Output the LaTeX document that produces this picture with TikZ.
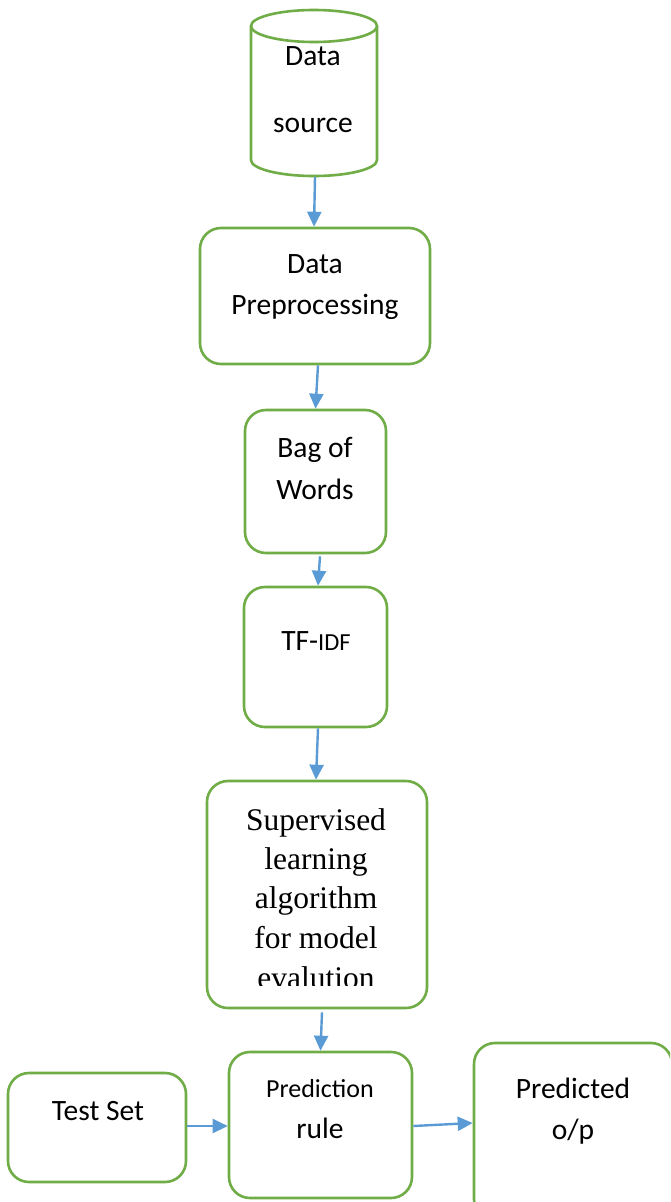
\documentclass[tikz,border=0pt]{standalone}
\usepackage{fontspec}
\setmainfont{Carlito}
\newfontfamily\camfont{Liberation Serif}
\usetikzlibrary{arrows.meta}
\definecolor{boxgreen}{HTML}{70AD47}
\definecolor{arrowblue}{HTML}{5B9BD5}
\tikzset{
  stepbox/.style={draw=boxgreen, line width=2.6pt, rounded corners=21pt, fill=white, inner sep=0pt},
  txt/.style={inner sep=0pt, anchor=base, font=\fontsize{29.5}{34}\selectfont, text=black},
  smalltxt/.style={txt, font=\fontsize{26}{30}\selectfont},
  sertxt/.style={inner sep=0pt, anchor=base, font=\camfont\fontsize{31.5}{36}\selectfont, text=black},
  flow/.style={draw=arrowblue, line width=2.4pt, -{Triangle[length=15pt,width=14pt]}},
}
\begin{document}
\begin{tikzpicture}[x=1pt,y=-1pt]
\useasboundingbox (0,0) rectangle (670,1202);
\fill[white] (0,0) rectangle (670,1202);
\begin{scope}
\clip (0,0) rectangle (670,1202);
% cylinder (Data source)
\draw[boxgreen, line width=2.6pt, fill=white]
  (251,26) -- (251,160) arc[start angle=180, end angle=360, x radius=63pt, y radius=16pt] -- (377,26);
\draw[boxgreen, line width=2.6pt, fill=white] (314,26) ellipse[x radius=63pt, y radius=16pt];
\node[inner sep=0pt, minimum width=126pt, minimum height=166pt] (ds) at (314,93) {};
\node[txt] (ds1) at (313,65) {Data};
\node[txt] (ds2) at (313,132) {source};

% boxes
\node[stepbox, minimum width=230pt, minimum height=136pt] (dp) at (315,296) {};
\node[txt] (dp1) at (315,273) {Data};
\node[txt] (dp2) at (315,314) {Preprocessing};

\node[stepbox, minimum width=141pt, minimum height=143pt] (bow) at (315.5,481.5) {};
\node[txt] (bow1) at (315,457) {Bag of};
\node[txt] (bow2) at (315,499) {Words};

\node[stepbox, minimum width=143pt, minimum height=140pt] (tf) at (315.5,657) {};
\node[txt] (tf1) at (316,650) {TF-{\fontsize{24.5}{28}\selectfont IDF}};

\node[stepbox, minimum width=220pt, minimum height=227pt] (sl) at (317,894.5) {};
\node[sertxt] (sl1) at (316,830) {Supervised};
\node[sertxt] (sl2) at (316,869) {learning};
\node[sertxt] (sl3) at (316,908) {algorithm};
\node[sertxt] (sl4) at (316,948) {for model};
\begin{scope}
\clip (210,950) rectangle (425,985);
\node[sertxt] (sl5) at (316,988) {evalution};
\end{scope}

\node[stepbox, minimum width=178pt, minimum height=109pt] (ts) at (97,1127.5) {};
\node[txt] (ts1) at (98,1120) {Test Set};

\node[stepbox, minimum width=183pt, minimum height=146pt] (pr) at (320.5,1125) {};
\node[smalltxt] (pr1) at (320,1097) {Prediction};
\node[txt] (pr2) at (320,1138) {rule};

\node[stepbox, minimum width=198pt, minimum height=177pt] (po) at (573,1131.5) {};
\node[txt] (po1) at (573,1098) {Predicted};
\node[txt] (po2) at (573,1139) {o/p};

% connectors
\draw[flow] ([xshift=1pt,yshift=-1pt]ds.south) -- (ds.south |- dp.north);
\draw[flow] ([xshift=3pt]dp.south) -- (bow.north);
\draw[flow] ([xshift=4.5pt,yshift=-2pt]bow.south) -- ([xshift=2.5pt]tf.north);
\draw[flow] ([xshift=2.5pt]tf.south) -- ([xshift=-1pt]sl.north);
\draw[flow] ([xshift=5pt,yshift=-3pt]sl.south) -- (pr.north);
\draw[flow] (ts.east |- 0,1126) -- (pr.west |- 0,1126);
\draw[flow] ([yshift=-1pt]pr.east) -- (po.west |- 0,1123);
\end{scope}
\end{tikzpicture}
\end{document}
